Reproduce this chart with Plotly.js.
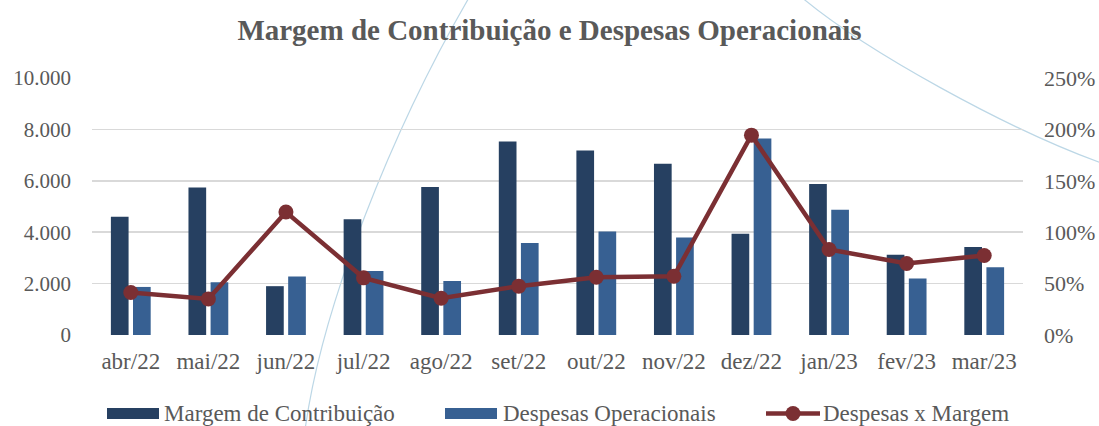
<!DOCTYPE html>
<html>
<head>
<meta charset="utf-8">
<script src="https://cdn.plot.ly/plotly-3.0.1.min.js"></script>
<style>
  html, body { margin: 0; padding: 0; background: #ffffff; }
  #chart { width: 1099px; height: 426px; }
</style>
</head>
<body>
<div id="chart"></div>
<script>
// ---- Data ----
const months = ['abr/22','mai/22','jun/22','jul/22','ago/22','set/22','out/22','nov/22','dez/22','jan/23','fev/23','mar/23'];
const margemContribuicao = [4600, 5735, 1900, 4500, 5760, 7530, 7180, 6660, 3940, 5880, 3120, 3420];
const despesasOperacionais = [1870, 2055, 2275, 2495, 2105, 3575, 4030, 3795, 7645, 4875, 2200, 2640];
const despesasXMargem = [0.413, 0.351, 1.196, 0.556, 0.358, 0.475, 0.562, 0.572, 1.944, 0.832, 0.696, 0.774];

const seriesNames = ['Margem de Contribuição', 'Despesas Operacionais', 'Despesas x Margem'];
const colors = ['#264061', '#376092', '#7b2f33'];

// ---- Layout helpers (pixel -> paper) ----
const W = 1099, H = 426;
const M = { l: 92, r: 76, t: 78, b: 91 };
const PW = W - M.l - M.r, PH = H - M.t - M.b;
const px = x => (x - M.l) / PW;
const py = y => (H - M.b - y) / PH;

const textColor = '#595959';
const fontFam = '"Liberation Serif", "Times New Roman", serif';

const traces = [
  { type: 'bar', name: seriesNames[0], x: months, y: margemContribuicao,
    marker: { color: colors[0] }, showlegend: false, hoverinfo: 'skip' },
  { type: 'bar', name: seriesNames[1], x: months, y: despesasOperacionais,
    marker: { color: colors[1] }, showlegend: false, hoverinfo: 'skip' },
  { type: 'scatter', mode: 'lines+markers', name: seriesNames[2], x: months, y: despesasXMargem,
    yaxis: 'y2', line: { color: colors[2], width: 4.5 },
    marker: { color: colors[2], size: 15 }, showlegend: false, hoverinfo: 'skip' }
];

function pathStr(pts) {
  let s = 'M ' + px(pts[0][0]).toFixed(4) + ',' + py(pts[0][1]).toFixed(4) + ' C';
  for (let i = 1; i < pts.length; i++) {
    s += ' ' + px(pts[i][0]).toFixed(4) + ',' + py(pts[i][1]).toFixed(4);
  }
  return s;
}

const shapes = [
  // decorative background arcs
  { type: 'path', xref: 'paper', yref: 'paper', layer: 'below',
    path: pathStr([[305, 430], [322, 306], [392, 130], [470, -4]]),
    line: { color: '#bcd7e6', width: 1.2 } },
  { type: 'path', xref: 'paper', yref: 'paper', layer: 'below',
    path: pathStr([[800, -4], [865, 51], [1009, 130], [1104, 164]]),
    line: { color: '#bcd7e6', width: 1.2 } },
  // legend swatches
  { type: 'rect', xref: 'paper', yref: 'paper', x0: px(107), x1: px(159), y0: py(408), y1: py(419),
    fillcolor: colors[0], line: { width: 0 } },
  { type: 'rect', xref: 'paper', yref: 'paper', x0: px(445), x1: px(497), y0: py(408), y1: py(419),
    fillcolor: colors[1], line: { width: 0 } },
  { type: 'line', xref: 'paper', yref: 'paper', x0: px(766), x1: px(820), y0: py(413.5), y1: py(413.5),
    line: { color: colors[2], width: 4.5 } },
  { type: 'circle', xref: 'paper', yref: 'paper', x0: px(785.5), x1: px(800.5), y0: py(406), y1: py(421),
    fillcolor: colors[2], line: { width: 0 } }
];

const legendLabelX = [162, 501, 821];
const annotations = seriesNames.map((t, i) => ({
  xref: 'paper', yref: 'paper', x: px(legendLabelX[i]), y: py(413),
  xanchor: 'left', yanchor: 'middle', showarrow: false, text: t,
  font: { family: fontFam, size: 23, color: textColor }
}));

const layout = {
  width: W, height: H,
  margin: M,
  paper_bgcolor: '#ffffff', plot_bgcolor: 'rgba(0,0,0,0)',
  separators: ',.',
  font: { family: fontFam, size: 20, color: textColor },
  title: { text: '<b>Margem de Contribuição e Despesas Operacionais</b>',
    x: 0.5, xref: 'container', y: 1 - 30 / H, yref: 'container', yanchor: 'middle',
    font: { family: fontFam, size: 29, color: textColor } },
  showlegend: false,
  barmode: 'group', bargap: 0.43, bargroupgap: 0.2,
  xaxis: { type: 'category', range: [-0.5, 11.5], showgrid: false, zeroline: false, showline: false,
    ticks: '', ticklabelstandoff: 10,
    tickfont: { family: fontFam, size: 23, color: textColor } },
  yaxis: { range: [0, 10000], dtick: 2000, tickformat: ',d',
    showgrid: true, gridcolor: '#d9d9d9', gridwidth: 1.5, zeroline: false, showline: false,
    ticks: '', ticklabelstandoff: 20,
    tickfont: { family: fontFam, size: 21, color: textColor } },
  yaxis2: { overlaying: 'y', side: 'right', range: [0, 2.5], dtick: 0.5, tickformat: '.0%',
    showgrid: false, zeroline: false, showline: false,
    ticks: '', ticklabelstandoff: 20,
    tickfont: { family: fontFam, size: 22, color: textColor } },
  shapes: shapes,
  annotations: annotations
};

Plotly.newPlot('chart', traces, layout, { displayModeBar: false, staticPlot: true });
</script>
</body>
</html>
